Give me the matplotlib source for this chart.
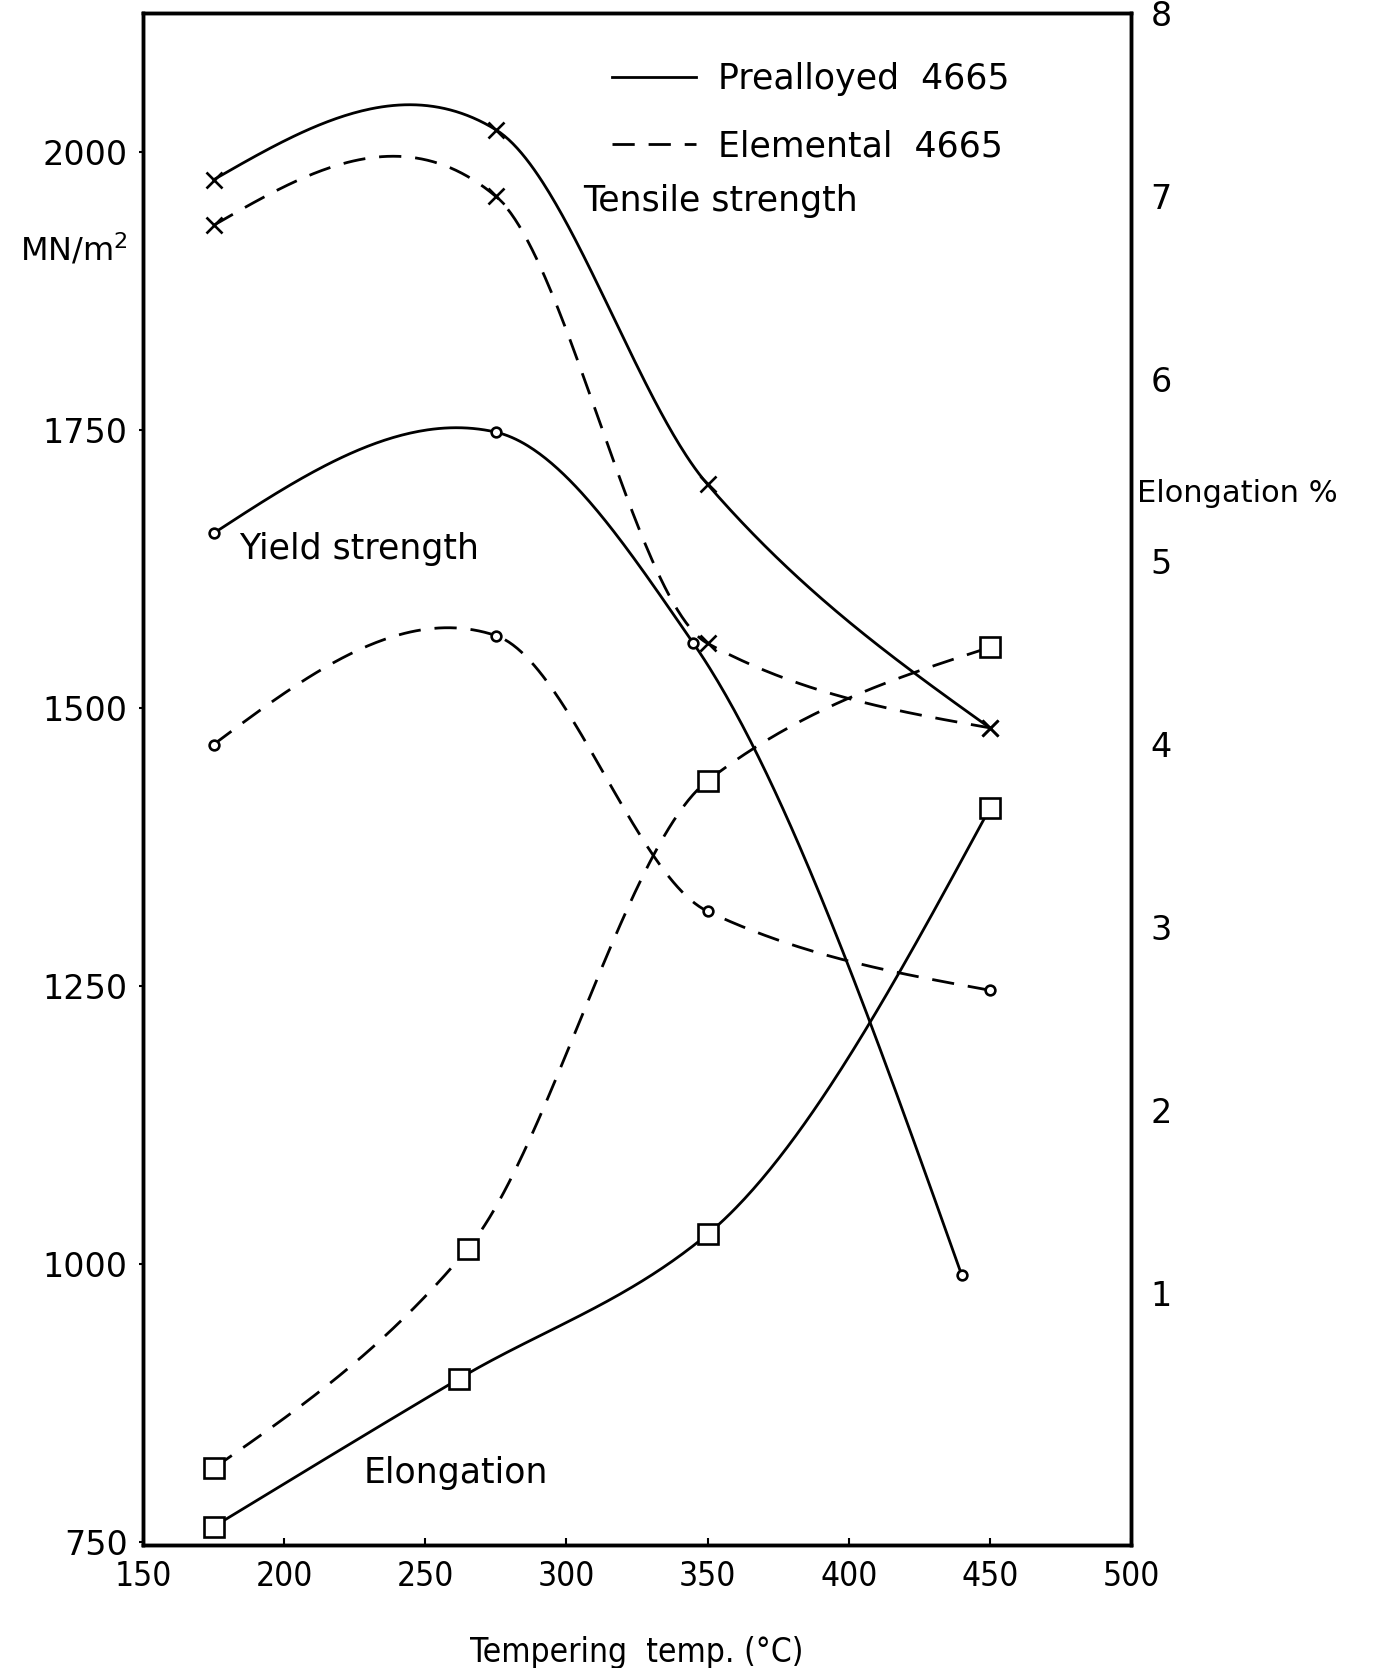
import numpy as np
import matplotlib
matplotlib.use("Agg")
import matplotlib.pyplot as plt
from matplotlib.lines import Line2D

# tempering temperatures (deg C)
temp_tensile = [175, 275, 350, 450]
temp_yield_pre = [175, 275, 345, 440]
temp_yield_ele = [175, 275, 350, 450]
temp_elong_pre = [175, 262, 350, 450]
temp_elong_ele = [175, 265, 350, 450]

# strengths, MN/m2
tensile_pre = [1975, 2020, 1701, 1482]
tensile_ele = [1934, 1960, 1558, 1482]
yield_pre = [1657, 1748, 1558, 990]
yield_ele = [1467, 1565, 1317, 1246]

# elongation, %
elong_pre = [-0.28, 0.53, 1.32, 3.65]
elong_ele = [0.04, 1.24, 3.80, 4.53]

left_ticks = [750, 1000, 1250, 1500, 1750, 2000]
right_ticks = [1, 2, 3, 4, 5, 6, 7, 8]
x_ticks = [150, 200, 250, 300, 350, 400, 450, 500]


def smooth(x, y, n=100):
    # cubic hermite curve through the points (hand-drawn look):
    # monotone tangents where the data is monotone, centred ones at the peaks
    x = np.asarray(x, float)
    y = np.asarray(y, float)
    k = len(x)
    h = np.diff(x)
    d = np.diff(y) / h
    m = np.zeros(k)
    for i in range(1, k - 1):
        if d[i - 1] * d[i] > 0:
            w1 = 2 * h[i] + h[i - 1]
            w2 = h[i] + 2 * h[i - 1]
            m[i] = (w1 + w2) / (w1 / d[i - 1] + w2 / d[i])
        else:
            m[i] = (y[i + 1] - y[i - 1]) / (x[i + 1] - x[i - 1])
    m[0] = (3 * d[0] - m[1]) / 2
    m[-1] = (3 * d[-1] - m[-2]) / 2
    if m[-1] * d[-1] < 0:
        m[-1] = 0
    xs_all, ys_all = [], []
    for i in range(k - 1):
        t = np.linspace(0, 1, n)
        h00 = 2 * t ** 3 - 3 * t ** 2 + 1
        h10 = t ** 3 - 2 * t ** 2 + t
        h01 = -2 * t ** 3 + 3 * t ** 2
        h11 = t ** 3 - t ** 2
        xs_all.append(x[i] + t * h[i])
        ys_all.append(h00 * y[i] + h10 * h[i] * m[i] + h01 * y[i + 1] + h11 * h[i] * m[i + 1])
    return np.concatenate(xs_all), np.concatenate(ys_all)


plt.rcParams["font.family"] = ["DejaVu Sans"]
W, H = 1376, 1668
fig = plt.figure(figsize=(W / 100, H / 100), dpi=100)
ax = fig.add_axes([143 / W, 1 - 1545 / H, (1131 - 143) / W, (1545 - 13) / H])
ax2 = ax.twinx()

lw = 2.0
dash = (0, (8, 5))
mk = dict(color="black", mfc="white", mew=1.9, zorder=5)

def draw(a, x, y, ls, marker, ms):
    xs, ys = smooth(x, y)
    a.plot(xs, ys, color="black", lw=lw, linestyle=ls)
    a.plot(x, y, linestyle="none", marker=marker, ms=ms, **mk)

draw(ax, temp_tensile, tensile_pre, "-", "x", 11)
draw(ax, temp_tensile, tensile_ele, dash, "x", 11)
draw(ax, temp_yield_pre, yield_pre, "-", "o", 7)
draw(ax, temp_yield_ele, yield_ele, dash, "o", 7)
draw(ax2, temp_elong_pre, elong_pre, "-", "s", 15)
draw(ax2, temp_elong_ele, elong_ele, dash, "s", 15)

ax.set_xlim(150, 500)
ax.set_ylim(747, 2125)
ax2.set_ylim(-0.38, 7.97)

ax.set_xticks(x_ticks)
ax.set_xticklabels([str(t) for t in x_ticks], fontsize=24, fontstretch="condensed")
ax.set_yticks(left_ticks)
ax.set_yticklabels([str(t) for t in left_ticks], fontsize=24)
ax.tick_params(axis="x", direction="in", length=5, width=1.5, pad=11)
ax.tick_params(axis="y", direction="out", length=3, width=1.5, pad=8)
ax2.set_yticks(right_ticks)
ax2.set_yticklabels([str(t) for t in right_ticks], fontsize=24)
ax2.tick_params(axis="y", length=0, pad=14)

for a in (ax, ax2):
    for s in a.spines.values():
        s.set_linewidth(2.5)

ax.set_xlabel("Tempering  temp. (°C)", fontsize=24, fontstretch="condensed", labelpad=31)
fig.text(128 / W, 1 - 250 / H, "MN/m$^{\\mathregular{2}}$", fontsize=23, ha="right", va="center")
fig.text(1137 / W, 1 - 494 / H, "Elongation %", fontsize=22, ha="left", va="center")

ax.text(306, 1956, "Tensile strength", fontsize=25, va="center")
ax.text(184, 1643, "Yield strength", fontsize=25, va="center")
ax.text(228, 812, "Elongation", fontsize=25, va="center")

handles = [Line2D([], [], color="black", lw=lw),
           Line2D([], [], color="black", lw=lw, linestyle=dash)]
ax2.legend(handles, ["Prealloyed  4665", "Elemental  4665"], loc="upper left",
           bbox_to_anchor=(0.475, 0.968), frameon=False, fontsize=25,
           handlelength=2.4, handletextpad=0.65, labelspacing=0.95,
           borderpad=0, borderaxespad=0)

fig.savefig("out.png", dpi=100)
